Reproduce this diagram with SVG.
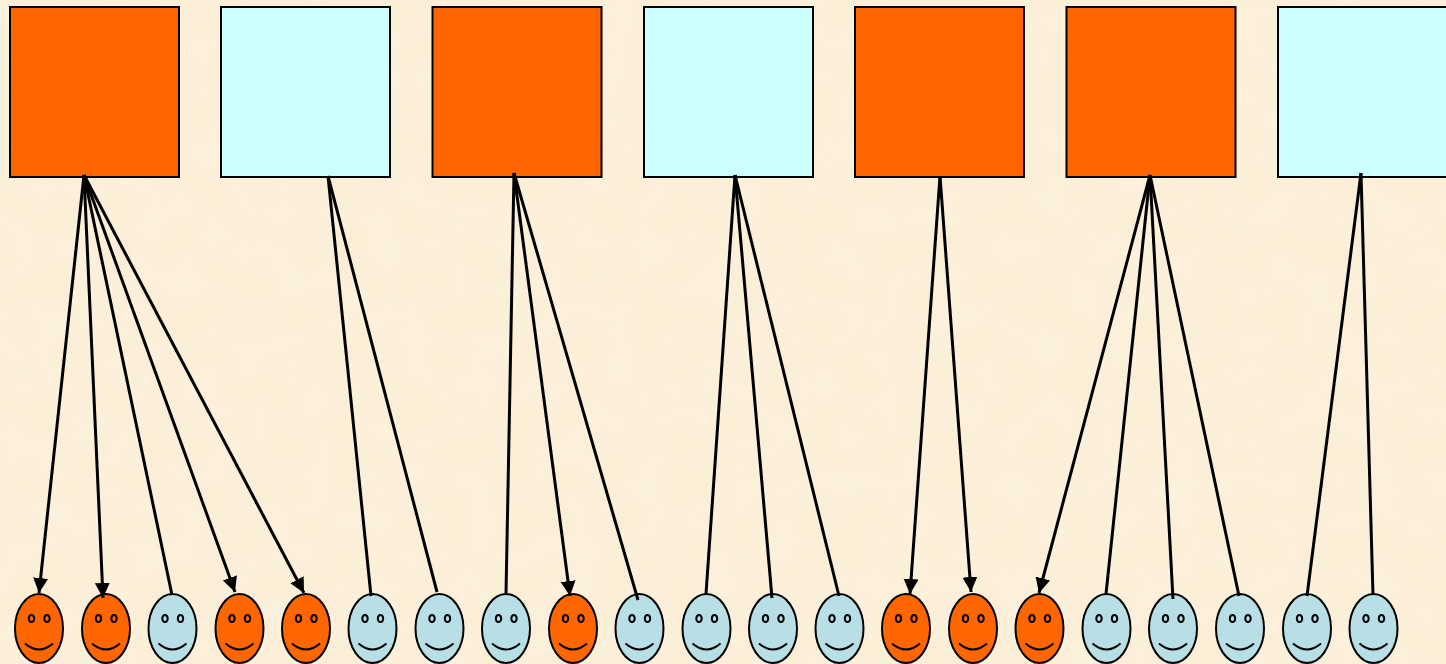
<svg xmlns="http://www.w3.org/2000/svg" width="1446" height="664" viewBox="0 0 1446 664">
<style>
.sq{stroke:#000;stroke-width:2}
.or{fill:#f60}
.cy{fill:#cff}
.bl{fill:#b7dfe5}
.fc{stroke:#000;stroke-width:2}
.ey{fill:none;stroke:#000;stroke-width:2}
.sm{fill:none;stroke:#000;stroke-width:2}
#connectors line{stroke:#000;stroke-width:3;fill:none}
.ar{marker-end:url(#ah)}
</style>
<defs>
<marker id="ah" markerUnits="userSpaceOnUse" markerWidth="18" markerHeight="18" refX="15" refY="7.500" orient="auto"><path d="M0 0L15 7.500L0 15Z" fill="#000"/></marker>
<filter id="tx" x="0" y="0" width="100%" height="100%"><feTurbulence type="fractalNoise" baseFrequency="0.03" numOctaves="3" seed="4"/><feColorMatrix values="0 0 0 0 1  0 0 0 0 0.97  0 0 0 0 0.9  0.4 0 0 0 -0.1"/></filter>
<g id="feat"><ellipse class="ey" cx="-7.500" cy="-10" rx="2.700" ry="3.600"/><ellipse class="ey" cx="8" cy="-10" rx="2.700" ry="3.600"/><path class="sm" d="M-14 15Q0 27 14 15"/></g>
</defs>
<rect width="1446" height="664" fill="#fbeed6"/>
<rect width="1446" height="664" filter="url(#tx)"/>
<g id="box1"><rect class="sq or" x="10" y="7" width="169" height="170"/></g>
<g id="box2"><rect class="sq cy" x="221" y="7" width="169" height="170"/></g>
<g id="box3"><rect class="sq or" x="432.500" y="7" width="169" height="170"/></g>
<g id="box4"><rect class="sq cy" x="644" y="7" width="169" height="170"/></g>
<g id="box5"><rect class="sq or" x="855" y="7" width="169" height="170"/></g>
<g id="box6"><rect class="sq or" x="1066.500" y="7" width="169" height="170"/></g>
<g id="box7"><rect class="sq cy" x="1278" y="7" width="169" height="170"/></g>
<g id="faces">
<g id="face1" transform="translate(39 628.500)"><ellipse class="fc or" rx="24" ry="34.500"/><use href="#feat"/></g>
<g id="face2" transform="translate(106 628.500)"><ellipse class="fc or" rx="24" ry="34.500"/><use href="#feat"/></g>
<g id="face3" transform="translate(172.500 628.500)"><ellipse class="fc bl" rx="24" ry="34.500"/><use href="#feat"/></g>
<g id="face4" transform="translate(239.500 628.500)"><ellipse class="fc or" rx="24" ry="34.500"/><use href="#feat"/></g>
<g id="face5" transform="translate(306 628.500)"><ellipse class="fc or" rx="24" ry="34.500"/><use href="#feat"/></g>
<g id="face6" transform="translate(372.500 628.500)"><ellipse class="fc bl" rx="24" ry="34.500"/><use href="#feat"/></g>
<g id="face7" transform="translate(439.500 628.500)"><ellipse class="fc bl" rx="24" ry="34.500"/><use href="#feat"/></g>
<g id="face8" transform="translate(506 628.500)"><ellipse class="fc bl" rx="24" ry="34.500"/><use href="#feat"/></g>
<g id="face9" transform="translate(573 628.500)"><ellipse class="fc or" rx="24" ry="34.500"/><use href="#feat"/></g>
<g id="face10" transform="translate(639.500 628.500)"><ellipse class="fc bl" rx="24" ry="34.500"/><use href="#feat"/></g>
<g id="face11" transform="translate(706.500 628.500)"><ellipse class="fc bl" rx="24" ry="34.500"/><use href="#feat"/></g>
<g id="face12" transform="translate(773 628.500)"><ellipse class="fc bl" rx="24" ry="34.500"/><use href="#feat"/></g>
<g id="face13" transform="translate(839.500 628.500)"><ellipse class="fc bl" rx="24" ry="34.500"/><use href="#feat"/></g>
<g id="face14" transform="translate(906 628.500)"><ellipse class="fc or" rx="24" ry="34.500"/><use href="#feat"/></g>
<g id="face15" transform="translate(973 628.500)"><ellipse class="fc or" rx="24" ry="34.500"/><use href="#feat"/></g>
<g id="face16" transform="translate(1039.500 628.500)"><ellipse class="fc or" rx="24" ry="34.500"/><use href="#feat"/></g>
<g id="face17" transform="translate(1106.500 628.500)"><ellipse class="fc bl" rx="24" ry="34.500"/><use href="#feat"/></g>
<g id="face18" transform="translate(1173 628.500)"><ellipse class="fc bl" rx="24" ry="34.500"/><use href="#feat"/></g>
<g id="face19" transform="translate(1240 628.500)"><ellipse class="fc bl" rx="24" ry="34.500"/><use href="#feat"/></g>
<g id="face20" transform="translate(1307 628.500)"><ellipse class="fc bl" rx="24" ry="34.500"/><use href="#feat"/></g>
<g id="face21" transform="translate(1373.500 628.500)"><ellipse class="fc bl" rx="24" ry="34.500"/><use href="#feat"/></g>
</g>
<g id="connectors">
<line class="ar" x1="84" y1="175" x2="39" y2="593"/>
<line class="ar" x1="84" y1="175" x2="103" y2="598"/>
<line x1="84" y1="175" x2="172" y2="595"/>
<line class="ar" x1="84" y1="175" x2="235" y2="592"/>
<line class="ar" x1="84" y1="175" x2="304" y2="593"/>
<line x1="328" y1="176" x2="371" y2="596"/>
<line x1="328" y1="176" x2="437" y2="592"/>
<line x1="514" y1="173" x2="506" y2="594"/>
<line class="ar" x1="514" y1="173" x2="570" y2="596"/>
<line x1="514" y1="173" x2="638" y2="600"/>
<line x1="735" y1="175" x2="706" y2="594"/>
<line x1="735" y1="175" x2="772" y2="598"/>
<line x1="735" y1="175" x2="839" y2="596"/>
<line class="ar" x1="940" y1="176" x2="910" y2="594"/>
<line class="ar" x1="940" y1="176" x2="971" y2="592"/>
<line class="ar" x1="1150" y1="175" x2="1039" y2="593"/>
<line x1="1150" y1="175" x2="1106" y2="594"/>
<line x1="1150" y1="175" x2="1173" y2="599"/>
<line x1="1150" y1="175" x2="1239" y2="596"/>
<line x1="1361" y1="173" x2="1307" y2="596"/>
<line x1="1361" y1="173" x2="1373" y2="595"/>
</g>
</svg>
